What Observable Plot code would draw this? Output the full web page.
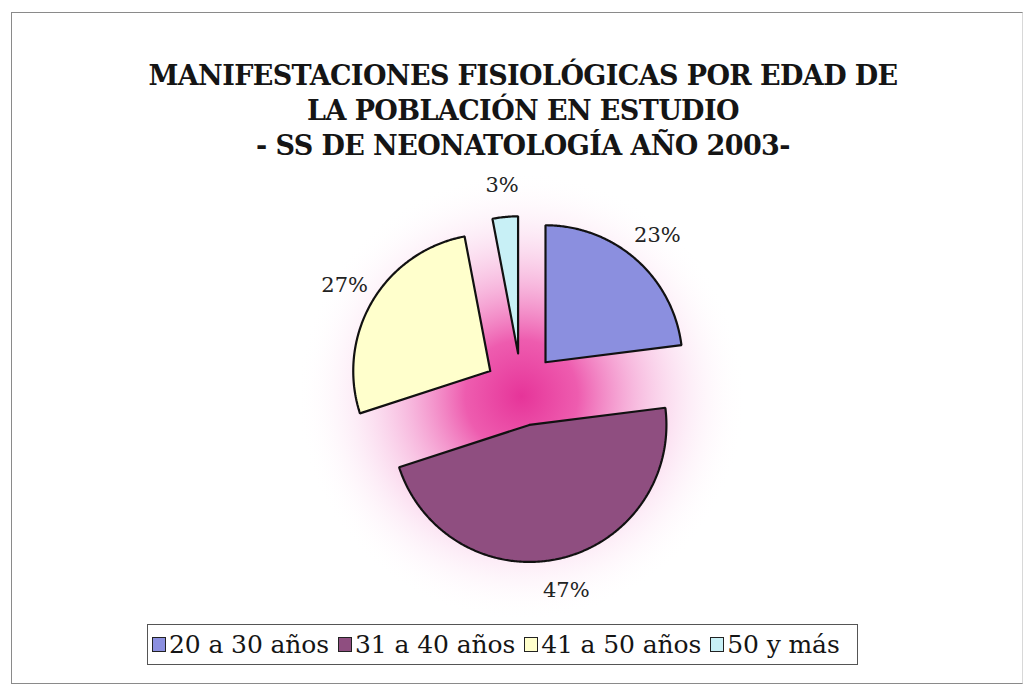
<!DOCTYPE html>
<html>
<head>
<meta charset="utf-8">
<script src="https://cdn.jsdelivr.net/npm/d3@7"></script>
<script src="https://cdn.jsdelivr.net/npm/@observablehq/plot@0.6"></script>
<style>
  html, body { margin: 0; padding: 0; background: #fff; }
  #page { position: relative; width: 1026px; height: 687px; overflow: hidden; background: #fff; }
  #frame { position: absolute; left: 11px; top: 12px; width: 1012px; height: 672px; border: 1px solid #8a8a8a; border-right-color: #d8d8d8; box-sizing: border-box; }
  #title { position: absolute; left: 0; top: 58px; width: 1046px; text-align: center;
    font-family: "DejaVu Serif", serif; font-weight: bold; font-size: 27px; line-height: 35px; color: #151515; letter-spacing: -0.6px; }
  #chart { position: absolute; left: 0; top: 170px; }
  #legend { position: absolute; left: 147px; top: 624px; width: 711px; height: 41px; box-sizing: border-box;
    border: 1.5px solid #555; display: flex; align-items: center; padding-left: 4px;
    font-family: "DejaVu Serif", serif; font-size: 25px; color: #151515; white-space: nowrap; letter-spacing: -0.1px; }
  .item { display: flex; align-items: center; margin-right: 9px; }
  .sw { width: 12px; height: 13px; border: 1.5px solid #222; margin-right: 3px; }
</style>
</head>
<body>
<div id="page">
  <div id="frame"></div>
  <div id="title"></div>
  <div id="chart"></div>
  <div id="legend"></div>
</div>
<script>
// ---- data ----
const titleLines = ["MANIFESTACIONES FISIOLÓGICAS POR EDAD DE", "LA POBLACIÓN EN ESTUDIO", "- SS DE NEONATOLOGÍA AÑO 2003-"];
const categories = ["20 a 30 años", "31 a 40 años", "41 a 50 años", "50 y más"];
const values = [23, 47, 27, 3];
const colors = ["#8b8fdf", "#8f4e80", "#ffffcc", "#c8f0f6"];

// ---- title & legend ----
document.getElementById("title").innerHTML = titleLines.join("<br>");
const legend = d3.select("#legend");
categories.forEach((c, i) => {
  const it = legend.append("div").attr("class", "item");
  it.append("div").attr("class", "sw").style("background", colors[i]);
  it.append("span").text(c);
});

// ---- pie geometry (unit radius) ----
const W = 1026, H = 450, cx = 521, cy = 219, k = 137;
const explode = 0.265, labelR = 1.5;
const arcs = d3.pie().sort(null).value(d => d.value)(categories.map((c, i) => ({cat: c, value: values[i]})));
const pts = [];
const labels = [];
arcs.forEach(a => {
  const m = (a.startAngle + a.endAngle) / 2;
  const ox = explode * Math.sin(m), oy = -explode * Math.cos(m);
  pts.push({cat: a.data.cat, x: ox, y: oy});
  const n = Math.max(4, Math.ceil((a.endAngle - a.startAngle) / 0.01));
  for (let j = 0; j <= n; j++) {
    const t = a.startAngle + (a.endAngle - a.startAngle) * j / n;
    pts.push({cat: a.data.cat, x: ox + Math.sin(t), y: oy - Math.cos(t)});
  }
  pts.push({cat: a.data.cat, x: ox, y: oy});
  labels.push({x: labelR * Math.sin(m), y: -labelR * Math.cos(m), text: a.data.value + "%"});
});

const svg = Plot.plot({
  width: W, height: H, margin: 0,
  x: {domain: [-cx / k, (W - cx) / k], range: [0, W], axis: null},
  y: {domain: [-cy / k, (H - cy) / k], range: [0, H], axis: null},
  color: {domain: categories, range: colors},
  style: {background: "transparent", overflow: "visible"},
  marks: [
    Plot.dot([{x: 0, y: 0.05}], {x: "x", y: "y", r: 225, fill: "url(#glow)", stroke: "none"}),
    Plot.line(pts, {x: "x", y: "y", z: "cat", fill: "cat", stroke: "#111", strokeWidth: 2.2, strokeLinejoin: "miter", curve: "linear"}),
    Plot.text(labels, {x: "x", y: "y", text: "text", fontFamily: "DejaVu Serif, serif", fontSize: 21, fill: "#222", letterSpacing: "-0.5px"})
  ]
});
const defs = d3.select(svg).insert("defs", ":first-child");
const g = defs.append("radialGradient").attr("id", "glow");
[[0, "#e63499", 1], [0.25, "#ec4aa6", 0.9], [0.5, "#f28ac8", 0.6], [0.75, "#f8c6e6", 0.3], [1, "#ffffff", 0]].forEach(([o, c, op]) =>
  g.append("stop").attr("offset", o).attr("stop-color", c).attr("stop-opacity", op));
document.getElementById("chart").appendChild(svg);
</script>
</body>
</html>
